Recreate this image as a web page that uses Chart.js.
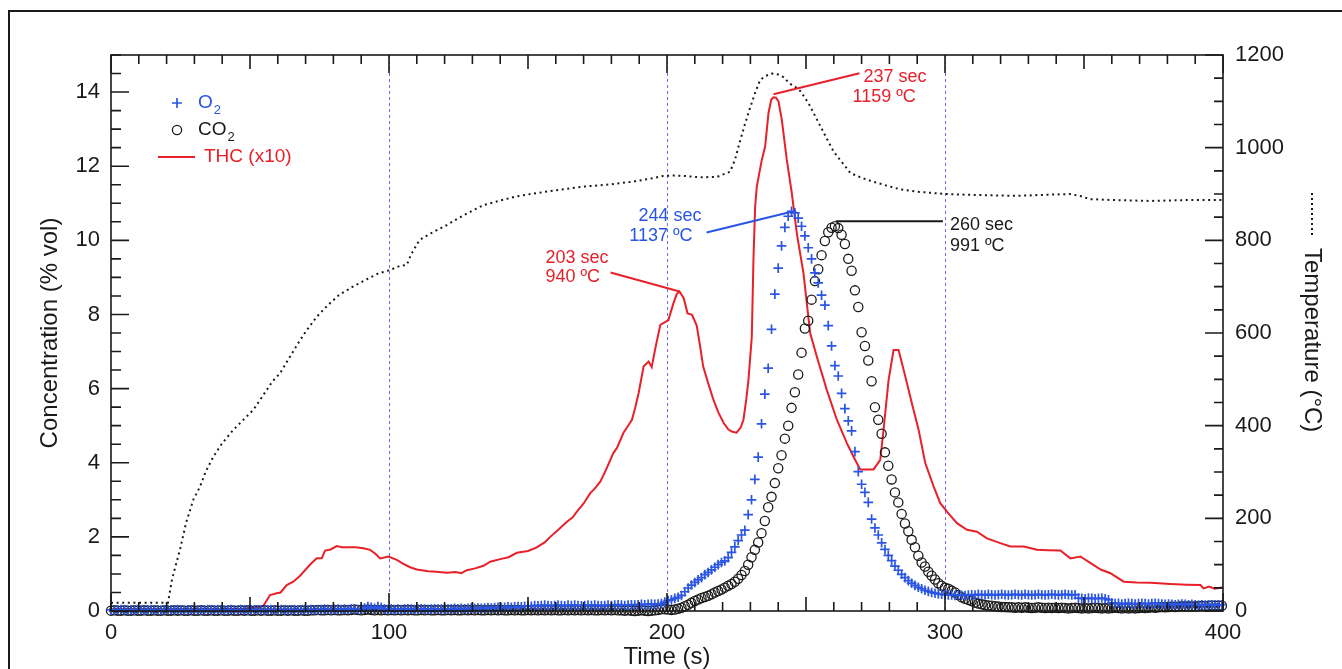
<!DOCTYPE html>
<html>
<head>
  <title>Gas concentration and temperature</title>
  <script src="https://cdn.jsdelivr.net/npm/chart.js"></script>
  <style>
    body { margin: 0; background: #fff; overflow: hidden; }
  </style>
</head>
<body>
  <canvas id="gasChart" width="1342" height="669"></canvas>

  <script>
    // sample times of the O2 / CO2 analyser (s)
    const gasTime = [
      0,1.2,2.4,3.6,4.8,6,7.2,8.4,9.6,10.8,
      12,13.2,14.4,15.6,16.8,18,19.2,20.4,21.6,22.8,
      24,25.2,26.4,27.6,28.8,30,31.2,32.4,33.6,34.8,
      36,37.2,38.4,39.6,40.8,42,43.2,44.4,45.6,46.8,
      48,49.2,50.4,51.6,52.8,54,55.2,56.4,57.6,58.8,
      60,61.2,62.4,63.6,64.8,66,67.2,68.4,69.6,70.8,
      72,73.2,74.4,75.6,76.8,78,79.2,80.4,81.6,82.8,
      84,85.2,86.4,87.6,88.8,90,91.2,92.4,93.6,94.8,
      96,97.2,98.4,99.6,100.8,102,103.2,104.4,105.6,106.8,
      108,109.2,110.4,111.6,112.8,114,115.2,116.4,117.6,118.8,
      120,121.2,122.4,123.6,124.8,126,127.2,128.4,129.6,130.8,
      132,133.2,134.4,135.6,136.8,138,139.2,140.4,141.6,142.8,
      144,145.2,146.4,147.6,148.8,150,151.2,152.4,153.6,154.8,
      156,157.2,158.4,159.6,160.8,162,163.2,164.4,165.6,166.8,
      168,169.2,170.4,171.6,172.8,174,175.2,176.4,177.6,178.8,
      180,181.2,182.4,183.6,184.8,186,187.2,188.4,189.6,190.8,
      192,193.2,194.4,195.6,196.8,
      198.0,199.2,200.4,201.6,202.8,204.0,205.2,206.4,207.6,208.8,
      210.0,211.2,212.4,213.6,214.8,216.0,217.2,218.4,219.6,220.8,
      222.0,223.2,224.4,225.6,226.8,228.0,229.2,230.4,231.6,232.8,
      234.0,235.2,236.4,237.6,238.8,240.0,241.2,242.4,243.6,244.8,
      246.0,247.2,248.4,249.6,250.8,252.0,253.2,254.4,255.6,256.8,
      258.0,259.2,260.4,261.6,262.8,264.0,265.2,266.4,267.6,268.8,
      270.0,271.2,272.4,273.6,274.8,276.0,277.2,278.4,279.6,280.8,
      282.0,283.2,284.4,285.6,286.8,288.0,289.2,290.4,291.6,292.8,
      294.0,295.2,296.4,297.6,298.8,300.0,301.2,302.4,303.6,304.8,
      306.0,
      307.2,308.4,309.6,310.8,312,313.2,314.4,315.6,316.8,318,
      319.2,320.4,321.6,322.8,324,325.2,326.4,327.6,328.8,330,
      331.2,332.4,333.6,334.8,336,337.2,338.4,339.6,340.8,342,
      343.2,344.4,345.6,346.8,348,349.2,350.4,351.6,352.8,354,
      355.2,356.4,357.6,358.8,360,361.2,362.4,363.6,364.8,366,
      367.2,368.4,369.6,370.8,372,373.2,374.4,375.6,376.8,378,
      379.2,380.4,381.6,382.8,384,385.2,386.4,387.6,388.8,390,
      391.2,392.4,393.6,394.8,396,397.2,398.4,399.6
    ];

    const o2Values = [
      0.03,0.02,0.03,0.04,0.03,0.02,0.03,0.03,0.04,0.03,
      0.02,0.03,0.04,0.03,0.03,0.02,0.03,0.04,0.03,0.03,
      0.04,0.03,0.02,0.03,0.03,0.04,0.03,0.02,0.03,0.04,
      0.03,0.03,0.04,0.03,0.02,0.03,0.04,0.03,0.03,0.04,
      0.03,0.02,0.03,0.04,0.03,0.03,0.02,0.03,0.04,0.03,
      0.03,0.04,0.03,0.02,0.03,0.04,0.03,0.03,0.04,0.03,
      0.04,0.03,0.03,0.04,0.05,0.04,0.03,0.04,0.05,0.04,
      0.05,0.04,0.06,0.05,0.04,0.06,0.08,0.12,0.1,0.07,
      0.12,0.09,0.05,0.04,0.05,0.04,0.05,0.04,0.05,0.06,
      0.05,0.04,0.05,0.06,0.05,0.04,0.05,0.06,0.05,0.05,
      0.06,0.05,0.06,0.07,0.06,0.07,0.06,0.07,0.08,0.07,
      0.08,0.07,0.08,0.09,0.08,0.09,0.1,0.09,0.1,0.11,
      0.1,0.11,0.12,0.11,0.13,0.14,0.13,0.15,0.14,0.15,
      0.16,0.15,0.14,0.15,0.16,0.15,0.14,0.16,0.15,0.16,
      0.15,0.14,0.15,0.16,0.15,0.16,0.15,0.14,0.15,0.16,
      0.15,0.16,0.17,0.16,0.15,0.16,0.17,0.16,0.17,0.18,
      0.17,0.18,0.19,0.18,0.19,
      0.2,0.24,0.28,0.3,0.34,0.37,0.42,0.52,0.62,0.7,
      0.77,0.84,0.9,0.98,1.04,1.11,1.18,1.25,1.31,1.35,
      1.44,1.58,1.73,1.9,2.05,2.18,2.6,3.0,3.55,4.15,
      5.05,5.85,6.55,7.6,8.55,9.25,9.85,10.35,10.65,10.78,
      10.74,10.6,10.38,10.12,9.8,9.5,9.12,8.85,8.52,8.25,
      7.7,7.15,6.62,6.34,5.87,5.46,5.13,4.86,4.3,3.76,
      3.42,3.2,2.93,2.48,2.24,2.05,1.84,1.66,1.5,1.36,
      1.21,1.1,0.99,0.9,0.82,0.75,0.69,0.64,0.6,0.56,
      0.53,0.5,0.48,0.46,0.45,0.44,0.43,0.43,0.42,0.43,
      0.42,
      0.42,0.43,0.44,0.43,0.45,0.44,0.43,0.45,0.44,0.43,
      0.44,0.45,0.44,0.43,0.44,0.45,0.44,0.43,0.45,0.44,
      0.43,0.44,0.45,0.44,0.43,0.44,0.45,0.44,0.43,0.44,
      0.45,0.44,0.43,0.44,0.35,0.34,0.33,0.35,0.34,0.33,
      0.34,0.35,0.33,0.3,0.22,0.2,0.21,0.19,0.2,0.21,
      0.2,0.19,0.2,0.21,0.2,0.19,0.2,0.21,0.2,0.19,
      0.18,0.19,0.18,0.17,0.18,0.19,0.18,0.17,0.18,0.17,
      0.16,0.17,0.16,0.17,0.16,0.17,0.16,0.17
    ];

    const co2Values = [
      0.01,0.02,0.01,0.01,0.02,0.01,0.01,0.02,0.01,0.01,
      0.02,0.01,0.01,0.02,0.01,0.01,0.02,0.01,0.01,0.02,
      0.01,0.02,0.01,0.01,0.02,0.01,0.01,0.02,0.01,0.01,
      0.02,0.01,0.01,0.02,0.01,0.01,0.02,0.01,0.01,0.02,
      0.01,0.02,0.01,0.01,0.02,0.01,0.02,0.01,0.01,0.02,
      0.01,0.01,0.02,0.01,0.02,0.01,0.01,0.02,0.01,0.01,
      0.02,0.02,0.03,0.02,0.02,0.03,0.02,0.03,0.02,0.02,
      0.03,0.02,0.03,0.04,0.03,0.02,0.03,0.04,0.03,0.02,
      0.03,0.02,0.03,0.02,0.03,0.02,0.03,0.02,0.03,0.02,
      0.03,0.02,0.02,0.03,0.02,0.03,0.02,0.02,0.03,0.02,
      0.02,0.03,0.02,0.03,0.02,0.02,0.03,0.02,0.03,0.02,
      0.03,0.02,0.02,0.03,0.02,0.03,0.02,0.03,0.02,0.02,
      0.03,0.02,0.03,0.02,0.02,0.03,0.02,0.03,0.02,0.03,
      0.02,0.03,0.02,0.03,0.02,0.02,0.03,0.02,0.03,0.02,
      0.03,0.02,0.03,0.02,0.03,0.02,0.02,0.03,0.02,0.03,
      0.02,0.03,0.02,0.02,0.01,0.02,0.01,0.0,0.01,0.02,
      0.01,0.0,0.01,0.02,0.03,
      0.05,0.05,0.04,0.03,0.04,0.06,0.09,0.13,0.17,0.22,
      0.27,0.31,0.35,0.38,0.41,0.45,0.5,0.54,0.58,0.63,
      0.68,0.73,0.79,0.87,0.97,1.08,1.25,1.45,1.65,1.85,
      2.1,2.43,2.8,3.08,3.45,3.85,4.2,4.65,5.0,5.48,
      5.9,6.38,6.97,7.62,7.83,8.4,8.9,9.22,9.6,9.98,
      10.22,10.34,10.38,10.33,10.15,9.9,9.5,9.18,8.65,8.2,
      7.52,7.15,6.76,6.2,5.5,5.16,4.78,4.28,3.92,3.55,
      3.2,2.93,2.62,2.36,2.15,1.92,1.72,1.49,1.31,1.2,
      1.06,0.95,0.85,0.75,0.68,0.63,0.6,0.55,0.5,0.43,
      0.37,
      0.33,0.3,0.27,0.23,0.2,0.18,0.16,0.15,0.14,0.13,
      0.12,0.11,0.11,0.1,0.1,0.09,0.1,0.09,0.1,0.09,
      0.08,0.09,0.1,0.09,0.08,0.09,0.08,0.09,0.08,0.09,
      0.08,0.07,0.08,0.09,0.08,0.07,0.08,0.07,0.08,0.09,
      0.08,0.07,0.08,0.07,0.08,0.09,0.08,0.07,0.08,0.07,
      0.08,0.07,0.08,0.09,0.08,0.09,0.1,0.09,0.1,0.11,
      0.1,0.11,0.12,0.11,0.12,0.13,0.12,0.13,0.12,0.13,
      0.13,0.14,0.13,0.14,0.15,0.14,0.15,0.14
    ];

    // total hydrocarbons, plotted x10
    const thcTime = [
      0,10,20,30,40,48,51,53,55,57.2,
      59.6,61,63.2,65.6,68,70.4,72,74,75.8,77,
      79,81.2,83,86,88,90.8,93.2,95,96.8,99.8,
      102.8,105,107.6,110,112.4,114,117,120.8,124,126,
      128,131,134,136.4,140,143,146,150,153,156,
      158,161,164,166,167.6,170,172.4,174,176,178,
      180.7,182,184.3,186,187.4,188.6,189.8,191.6,193.4,194.5,
      195.7,197.6,200.5,202.3,203.5,204.5,206,207.4,209,210.7,
      212,213,215,216.7,218.5,220.4,222,223.3,225,226.5,
      227.5,228.5,229.3,230.5,231.1,231.7,232.3,234.1,235.3,236.5,
      237.5,238.3,239.2,240.1,241.3,243.1,244.9,246.7,249.1,251.5,
      253.9,257.5,261.1,264.7,267.1,269.5,274.3,276.7,277.9,279.7,
      281.5,283.3,285.7,288.1,290.5,292.9,295.9,298.3,300.7,304.3,
      307.9,311.5,315.1,319.9,323.5,328.3,333.1,337,341.5,345.1,
      348.7,353.5,356,359.5,364.3,369,374,381.1,387,391.9,
      393,395,397,400
    ];
    const thcValues = [
      0.05,0.05,0.04,0.05,0.05,0.06,0.1,0.08,0.16,0.43,
      0.48,0.5,0.7,0.79,0.95,1.15,1.28,1.42,1.42,1.63,
      1.66,1.75,1.72,1.72,1.72,1.69,1.65,1.55,1.42,1.47,
      1.38,1.28,1.18,1.12,1.09,1.07,1.06,1.03,1.05,1.02,
      1.1,1.15,1.22,1.33,1.4,1.45,1.57,1.62,1.71,1.85,
      2.0,2.2,2.41,2.52,2.68,2.9,3.18,3.3,3.49,3.8,
      4.26,4.4,4.8,5.0,5.16,5.5,5.88,6.6,6.73,6.58,
      7.05,7.72,7.85,8.3,8.55,8.62,8.44,8.03,7.99,7.7,
      7.1,6.6,6.1,5.7,5.35,5.07,4.9,4.84,4.81,4.95,
      5.16,5.7,6.23,7.4,9.5,10.9,11.45,12.17,12.53,13.43,
      13.8,13.86,13.85,13.75,13.25,12.17,11.27,10.19,9.11,7.5,
      6.86,5.96,5.16,4.53,4.16,3.82,3.82,4.08,4.89,6.23,
      7.04,7.04,6.33,5.6,4.89,3.99,3.36,2.91,2.68,2.37,
      2.19,2.14,1.96,1.83,1.74,1.74,1.65,1.64,1.63,1.42,
      1.47,1.24,1.12,1.02,0.79,0.77,0.76,0.73,0.71,0.7,
      0.61,0.66,0.6,0.64
    ];

    const tempTime = [
      0,5,10,15,20.5,22,24.8,27,29.6,32,
      34,36.8,40,44,48,51.2,55,58,60.8,64,
      67,70.4,74,78,82,87,92,96,100.4,104,
      106.4,108,111,115,120.8,125,130,134,140,146,
      152,160,170,180,188,194,198.7,203,206,212,
      218,222.7,224.5,226.4,228,230,231.8,233.5,235.5,237.7,
      240,242,244,246,248,251,254,257,260,263,
      266,270,274,279,284,290,300,310,326,335,
      345,349,352,360,374,387,400
    ];
    const tempValues = [
      18,18,18,18,18,70,132,190,240,268,
      300,333,362,391,415,434,468,495,513,545,
      575,606,635,660,682,700,716,728,736,745,
      747,770,801,815,833,848,864,876,886,895,
      901,908,916,921,927,933,939,940,939,936,
      937,948,975,1017,1050,1088,1120,1146,1155,1160,
      1158,1152,1139,1132,1122,1095,1060,1025,991,968,
      945,935,927,918,910,905,900,898,896,898,
      900,895,889,887,885,887,887
    ];

    const timeTicks = [0, 100, 200, 300, 400];
    const concTicks = [0, 2, 4, 6, 8, 10, 12, 14];
    const tempTicks = [0, 200, 400, 600, 800, 1000, 1200];
    const gridTimes = [100, 200, 300];

    // peak notes: anchor on the series, label text
    const peakNotes = [
      { key: 'thc237', time: 238.3, value: 13.86, lines: ['237 sec', '1159 ºC'] },
      { key: 'o2244',  time: 244.8, value: 10.78, lines: ['244 sec', '1137 ºC'] },
      { key: 'thc203', time: 204.5, value: 8.62,  lines: ['203 sec', '940 ºC'] },
      { key: 'co2260', time: 260.4, value: 10.38, lines: ['260 sec', '991 ºC'] }
    ];

    const FONT = "'Liberation Sans', Arial, sans-serif";
    const INK = '#1a1a1a';
    const BLUE = '#2a55e4';
    const RED = '#e8202a';

    const toPoints = (xs, ys) => xs.map((x, i) => ({ x: x, y: ys[i] }));

    // where each note's leader line and text sit, relative to the anchor pixel
    const noteLayout = {
      thc237: { color: RED,  line: [0, -3, 86, -24], text: [[90, -20, 'left'], [79, 0, 'left']] },
      o2244:  { color: BLUE, line: [1, 0, -85, 21],  text: [[-90, 5, 'right'], [-99, 25, 'right']] },
      thc203: { color: RED,  line: [0, 0, -69, -19], text: [[-134, -33, 'left'], [-134, -14, 'left']] },
      co2260: { color: INK,  line: [1, -5, 108, -5], text: [[115, -1, 'left'], [115, 20, 'left']] }
    };

    function subText(ctx, x, y, main, sub, color) {
      ctx.fillStyle = color;
      ctx.font = '19px ' + FONT;
      ctx.textAlign = 'left';
      ctx.textBaseline = 'middle';
      ctx.fillText(main, x, y);
      const w = ctx.measureText(main).width;
      ctx.font = '13px ' + FONT;
      ctx.fillText(sub, x + w + 1, y + 7);
    }

    const decor = {
      id: 'decor',
      beforeDatasetsDraw(chart) {
        const { ctx, chartArea: a, scales: { x } } = chart;
        ctx.save();
        ctx.strokeStyle = '#6c6cf2';
        ctx.lineWidth = 1;
        ctx.setLineDash([3, 3]);
        gridTimes.forEach(t => {
          const px = Math.round(x.getPixelForValue(t)) + 0.5;
          ctx.beginPath();
          ctx.moveTo(px, a.top);
          ctx.lineTo(px, a.bottom);
          ctx.stroke();
        });
        ctx.restore();
      },
      afterDatasetsDraw(chart) {
        const { ctx, chartArea: a, scales: { x, y, y2 } } = chart;
        ctx.save();

        // outer frame
        ctx.strokeStyle = INK;
        ctx.lineWidth = 2;
        ctx.strokeRect(9, 11, 1400, 700);

        // plot box + inward ticks
        ctx.lineWidth = 1.6;
        ctx.strokeRect(a.left, a.top, a.right - a.left, a.bottom - a.top);
        ctx.beginPath();
        for (let t = 0; t <= 400; t += 10) {
          const len = t % 100 === 0 ? 18 : (t % 50 === 0 ? 14 : 9);
          const px = x.getPixelForValue(t);
          ctx.moveTo(px, a.bottom); ctx.lineTo(px, a.bottom - len);
          ctx.moveTo(px, a.top); ctx.lineTo(px, a.top + len);
        }
        for (let v = 0; v <= 15; v += 0.5) {
          const len = v % 2 === 0 ? 18 : 10;
          const py = y.getPixelForValue(v);
          ctx.moveTo(a.left, py); ctx.lineTo(a.left + len, py);
        }
        for (let T = 0; T <= 1200; T += 50) {
          const len = T % 200 === 0 ? 18 : 9;
          const py = y2.getPixelForValue(T);
          ctx.moveTo(a.right, py); ctx.lineTo(a.right - len, py);
        }
        ctx.stroke();

        // legend
        const lx = a.left, ly = a.top;
        ctx.strokeStyle = BLUE;
        ctx.lineWidth = 1.7;
        ctx.beginPath();
        ctx.moveTo(lx + 61, ly + 48); ctx.lineTo(lx + 71, ly + 48);
        ctx.moveTo(lx + 66, ly + 43); ctx.lineTo(lx + 66, ly + 53);
        ctx.stroke();
        subText(ctx, lx + 87, ly + 48, 'O', '2', BLUE);

        ctx.strokeStyle = INK;
        ctx.lineWidth = 1.3;
        ctx.beginPath();
        ctx.arc(lx + 66, ly + 75, 4.6, 0, Math.PI * 2);
        ctx.stroke();
        subText(ctx, lx + 87, ly + 75, 'CO', '2', INK);

        ctx.strokeStyle = RED;
        ctx.lineWidth = 2;
        ctx.beginPath();
        ctx.moveTo(lx + 47, ly + 102); ctx.lineTo(lx + 84, ly + 102);
        ctx.stroke();
        ctx.fillStyle = RED;
        ctx.font = '19px ' + FONT;
        ctx.textBaseline = 'middle';
        ctx.fillText('THC (x10)', lx + 93, ly + 102);

        // peak notes
        ctx.font = '18px ' + FONT;
        peakNotes.forEach(n => {
          const L = noteLayout[n.key];
          const ax = x.getPixelForValue(n.time);
          const ay = y.getPixelForValue(n.value);
          ctx.strokeStyle = L.color;
          ctx.fillStyle = L.color;
          ctx.lineWidth = 2;
          ctx.beginPath();
          ctx.moveTo(ax + L.line[0], ay + L.line[1]);
          ctx.lineTo(ax + L.line[2], ay + L.line[3]);
          ctx.stroke();
          n.lines.forEach((s, i) => {
            const [dx, dy, align] = L.text[i];
            ctx.textAlign = align;
            ctx.fillText(s, ax + dx, ay + dy);
          });
        });

        // axis titles
        ctx.fillStyle = INK;
        ctx.font = '24px ' + FONT;
        ctx.textAlign = 'center';
        ctx.textBaseline = 'middle';
        ctx.fillText('Time (s)', (a.left + a.right) / 2, 657);

        ctx.save();
        ctx.translate(50, (a.top + a.bottom) / 2);
        ctx.rotate(-Math.PI / 2);
        ctx.fillText('Concentration (% vol)', 0, 0);
        ctx.restore();

        ctx.save();
        ctx.translate(1312, 248);
        ctx.rotate(Math.PI / 2);
        ctx.textAlign = 'left';
        ctx.fillText('Temperature (°C)', 0, 0);
        ctx.restore();

        ctx.strokeStyle = INK;
        ctx.lineWidth = 2;
        ctx.setLineDash([2, 3]);
        ctx.beginPath();
        ctx.moveTo(1312, 193);
        ctx.lineTo(1312, 236);
        ctx.stroke();

        ctx.restore();
      }
    };

    const tickFont = { family: FONT, size: 22 };

    new Chart(document.getElementById('gasChart'), {
      type: 'scatter',
      data: {
        datasets: [
          {
            label: 'O2',
            data: toPoints(gasTime, o2Values),
            yAxisID: 'y',
            pointStyle: 'cross',
            pointRadius: 4.8,
            pointBorderWidth: 1.7,
            pointBorderColor: BLUE,
            pointBackgroundColor: BLUE,
            showLine: false,
            clip: false
          },
          {
            label: 'CO2',
            data: toPoints(gasTime, co2Values),
            yAxisID: 'y',
            pointStyle: 'circle',
            pointRadius: 4.6,
            pointBorderWidth: 1.3,
            pointBorderColor: INK,
            pointBackgroundColor: 'rgba(0,0,0,0)',
            showLine: false,
            clip: false
          },
          {
            label: 'THC (x10)',
            data: toPoints(thcTime, thcValues),
            yAxisID: 'y',
            showLine: true,
            borderColor: RED,
            borderWidth: 2,
            pointRadius: 0,
            tension: 0
          },
          {
            label: 'Temperature',
            data: toPoints(tempTime, tempValues),
            yAxisID: 'y2',
            showLine: true,
            borderColor: INK,
            borderWidth: 2,
            borderDash: [2, 3.6],
            pointRadius: 0,
            tension: 0
          }
        ]
      },
      options: {
        responsive: false,
        animation: false,
        layout: { padding: { top: 55, left: 0, right: 0, bottom: 0 } },
        plugins: {
          legend: { display: false },
          tooltip: { enabled: false }
        },
        scales: {
          x: {
            type: 'linear',
            position: 'bottom',
            min: 0,
            max: 400,
            grid: { display: false, drawTicks: false },
            border: { display: false },
            afterBuildTicks: s => { s.ticks = timeTicks.map(v => ({ value: v })); },
            afterFit: s => { s.height = 58; },
            ticks: { font: tickFont, color: INK, padding: 9, maxRotation: 0, callback: v => String(v) }
          },
          y: {
            position: 'left',
            min: 0,
            max: 15,
            grid: { display: false, drawTicks: false },
            border: { display: false },
            afterBuildTicks: s => { s.ticks = concTicks.map(v => ({ value: v })); },
            afterFit: s => { s.width = 111; },
            ticks: { font: tickFont, color: INK, padding: 11, callback: v => String(v) }
          },
          y2: {
            position: 'right',
            min: 0,
            max: 1200,
            grid: { display: false, drawTicks: false },
            border: { display: false },
            afterBuildTicks: s => { s.ticks = tempTicks.map(v => ({ value: v })); },
            afterFit: s => { s.width = 119; },
            ticks: { font: tickFont, color: INK, padding: 12, callback: v => String(v) }
          }
        }
      },
      plugins: [decor]
    });
  </script>
</body>
</html>
